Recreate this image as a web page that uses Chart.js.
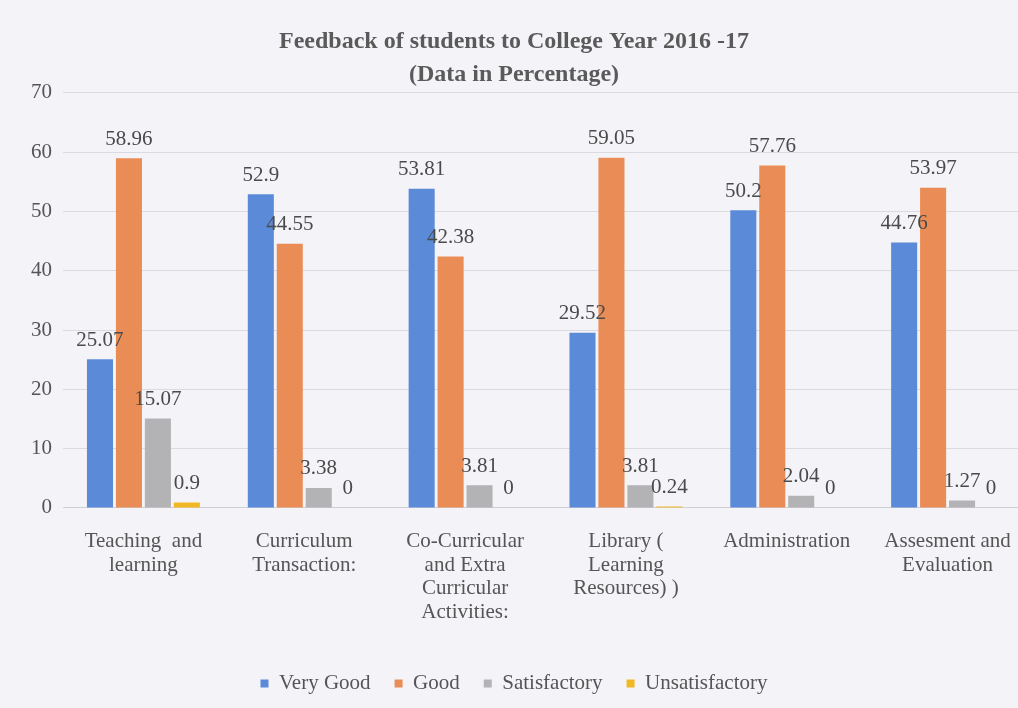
<!DOCTYPE html>
<html>
<head>
<meta charset="utf-8">
<script src="https://cdn.jsdelivr.net/npm/chart.js@4/dist/chart.umd.min.js"></script>
<style>
  html, body { margin: 0; padding: 0; background: #f4f3f8; overflow: hidden; }
  #wrap { width: 1040px; height: 708px; }
</style>
</head>
<body>
<div id="wrap"><canvas id="c" width="1040" height="708"></canvas></div>
<script>
// data
const categories = [
    ['Teaching  and', 'learning'],
    ['Curriculum', 'Transaction:'],
    ['Co-Curricular', 'and Extra', 'Curricular', 'Activities:'],
    ['Library (', 'Learning', 'Resources) )'],
    ['Administration'],
    ['Assesment and', 'Evaluation']
];
const veryGood = [25.07, 52.9, 53.81, 29.52, 50.2, 44.76];
const good = [58.96, 44.55, 42.38, 59.05, 57.76, 53.97];
const satisfactory = [15.07, 3.38, 3.81, 3.81, 2.04, 1.27];
const unsatisfactory = [0.9, 0, 0, 0.24, 0, 0];
const yTicks = [0, 10, 20, 30, 40, 50, 60, 70];

const serif = '"Liberation Serif", "Times New Roman", serif';
const txt = '#555555';

// value labels above each bar
const barLabels = {
    id: 'barLabels',
    afterDatasetsDraw(chart) {
        const ctx = chart.ctx;
        ctx.save();
        ctx.font = '21px ' + serif;
        ctx.fillStyle = '#4a4a4a';
        ctx.textAlign = 'center';
        ctx.textBaseline = 'middle';
        chart.data.datasets.forEach(function(ds, i) {
            chart.getDatasetMeta(i).data.forEach(function(bar, j) {
                ctx.fillText(String(ds.data[j]), bar.x, bar.y - 19);
            });
        });
        ctx.restore();
    }
};

new Chart(document.getElementById('c'), {
    type: 'bar',
    data: {
        labels: categories,
        datasets: [
            { label: 'Very Good', data: veryGood, backgroundColor: '#5b8bd8' },
            { label: 'Good', data: good, backgroundColor: '#ea8c55' },
            { label: 'Satisfactory', data: satisfactory, backgroundColor: '#b3b3b5' },
            { label: 'Unsatisfactory', data: unsatisfactory, backgroundColor: '#f2b824' }
        ]
    },
    options: {
        responsive: false,
        animation: false,
        categoryPercentage: 0.72,
        barPercentage: 0.9,
        layout: { padding: { left: 0, right: 12, top: 26, bottom: 4 } },
        scales: {
            x: {
                grid: { display: false, drawTicks: false },
                border: { color: '#d0d0d4' },
                afterFit: function(scale) { scale.height += 3; },
                ticks: {
                    color: txt,
                    padding: 22,
                    maxRotation: 0,
                    autoSkip: false,
                    font: { family: serif, size: 21, lineHeight: 1.12 }
                }
            },
            y: {
                min: 0,
                max: 70,
                afterFit: function(scale) { scale.width = 63; },
                afterBuildTicks: function(scale) {
                    scale.ticks = yTicks.map(function(v) { return { value: v }; });
                },
                grid: { color: '#dadae0', drawTicks: false },
                border: { display: false },
                ticks: {
                    color: txt,
                    padding: 11,
                    font: { family: serif, size: 21 }
                }
            }
        },
        plugins: {
            title: {
                display: true,
                text: ['Feedback of students to College Year 2016 -17', '(Data in Percentage)'],
                color: '#5a5a5a',
                font: { family: serif, size: 24, weight: 'bold', lineHeight: 1.35 },
                padding: { top: 0, bottom: 2 }
            },
            legend: {
                position: 'bottom',
                labels: {
                    color: txt,
                    boxWidth: 8,
                    boxHeight: 8,
                    padding: 24,
                    font: { family: serif, size: 21 }
                }
            },
            tooltip: { enabled: false }
        }
    },
    plugins: [barLabels]
});
</script>
</body>
</html>
